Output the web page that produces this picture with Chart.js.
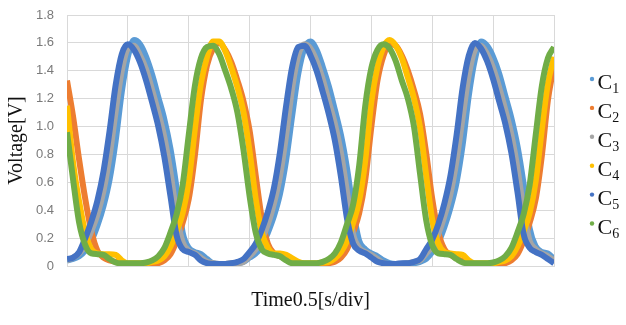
<!DOCTYPE html>
<html>
<head>
<meta charset="utf-8">
<script src="https://cdn.jsdelivr.net/npm/chart.js@4"></script>
<style>
  html, body { margin: 0; padding: 0; background: #fff; }
  #wrap { width: 626px; height: 325px; }
</style>
</head>
<body>
<div id="wrap"><canvas id="voltChart" width="626" height="325"></canvas></div>
<script>
/* =========================
   DATA
=========================*/
const time = [
  0, 0.1, 0.2, 0.3, 0.4, 0.5, 0.6, 0.7, 0.8, 0.9,
  1, 1.1, 1.2, 1.3, 1.4, 1.5, 1.6, 1.7, 1.8, 1.9,
  2, 2.1, 2.2, 2.3, 2.4, 2.5, 2.6, 2.7, 2.8, 2.9,
  3, 3.1, 3.2, 3.3, 3.4, 3.5, 3.6, 3.7, 3.8, 3.9,
  4, 4.1, 4.2, 4.3, 4.4, 4.5, 4.6, 4.7, 4.8, 4.9,
  5, 5.1, 5.2, 5.3, 5.4, 5.5, 5.6, 5.7, 5.8, 5.9,
  6, 6.1, 6.2, 6.3, 6.4, 6.5, 6.6, 6.7, 6.8, 6.9,
  7, 7.1, 7.2, 7.3, 7.4, 7.5, 7.6, 7.7, 7.8, 7.9,
  8
];

const c1 = [
  0.04, 0.05, 0.07, 0.11, 0.18, 0.29, 0.43, 0.62, 0.90, 1.25,
  1.50, 1.62, 1.59, 1.50, 1.37, 1.21, 1.05, 0.84, 0.56, 0.24,
  0.13, 0.10, 0.085, 0.05, 0.02, 0.015, 0.015, 0.015, 0.02, 0.03,
  0.06, 0.09, 0.14, 0.24, 0.36, 0.52, 0.76, 1.08, 1.38, 1.56,
  1.61, 1.55, 1.43, 1.29, 1.12, 0.94, 0.70, 0.40, 0.18, 0.12,
  0.09, 0.07, 0.04, 0.02, 0.015, 0.015, 0.02, 0.02, 0.03, 0.05,
  0.10, 0.17, 0.28, 0.42, 0.60, 0.87, 1.22, 1.48, 1.61, 1.58,
  1.50, 1.38, 1.22, 1.06, 0.86, 0.59, 0.27, 0.14, 0.10, 0.09,
  0.05
];

const c2 = [
  1.33, 1.07, 0.76, 0.48, 0.25, 0.11, 0.06, 0.04, 0.03, 0.02,
  0.015, 0.015, 0.015, 0.015, 0.015, 0.02, 0.04, 0.085, 0.18, 0.31,
  0.48, 0.79, 1.19, 1.44, 1.56, 1.60, 1.55, 1.46, 1.33, 1.18,
  0.97, 0.65, 0.34, 0.16, 0.09, 0.07, 0.05, 0.03, 0.02, 0.015,
  0.015, 0.015, 0.015, 0.02, 0.03, 0.06, 0.12, 0.24, 0.38, 0.62,
  1.00, 1.33, 1.51, 1.59, 1.58, 1.51, 1.40, 1.26, 1.09, 0.81,
  0.48, 0.24, 0.12, 0.08, 0.055, 0.035, 0.02, 0.015, 0.015, 0.015,
  0.015, 0.015, 0.02, 0.04, 0.085, 0.18, 0.31, 0.48, 0.79, 1.19,
  1.44
];

const c3 = [
  0.04, 0.06, 0.09, 0.15, 0.25, 0.37, 0.54, 0.79, 1.11, 1.40,
  1.56, 1.58, 1.51, 1.41, 1.26, 1.10, 0.92, 0.67, 0.37, 0.17,
  0.11, 0.09, 0.06, 0.03, 0.02, 0.015, 0.015, 0.02, 0.02, 0.03,
  0.07, 0.12, 0.19, 0.30, 0.45, 0.65, 0.94, 1.28, 1.51, 1.59,
  1.56, 1.47, 1.34, 1.18, 1.02, 0.81, 0.53, 0.23, 0.13, 0.10,
  0.08, 0.05, 0.02, 0.015, 0.015, 0.015, 0.02, 0.03, 0.04, 0.09,
  0.14, 0.23, 0.36, 0.52, 0.76, 1.07, 1.37, 1.55, 1.58, 1.52,
  1.42, 1.28, 1.12, 0.94, 0.70, 0.40, 0.18, 0.12, 0.09, 0.07,
  0.04
];

const c4 = [
  1.15, 0.74, 0.46, 0.24, 0.12, 0.09, 0.085, 0.085, 0.08, 0.04,
  0.02, 0.02, 0.02, 0.02, 0.03, 0.04, 0.07, 0.14, 0.25, 0.38,
  0.61, 0.98, 1.31, 1.50, 1.61, 1.61, 1.54, 1.42, 1.28, 1.10,
  0.82, 0.48, 0.24, 0.13, 0.09, 0.09, 0.08, 0.055, 0.03, 0.02,
  0.02, 0.02, 0.025, 0.03, 0.055, 0.10, 0.18, 0.31, 0.47, 0.76,
  1.18, 1.43, 1.57, 1.62, 1.58, 1.49, 1.35, 1.20, 0.99, 0.65,
  0.33, 0.16, 0.10, 0.09, 0.085, 0.08, 0.04, 0.02, 0.02, 0.02,
  0.02, 0.03, 0.04, 0.07, 0.14, 0.25, 0.38, 0.61, 0.98, 1.31,
  1.50
];

const c5 = [
  0.05, 0.06, 0.10, 0.20, 0.32, 0.47, 0.68, 0.97, 1.30, 1.52,
  1.59, 1.55, 1.46, 1.33, 1.17, 1.00, 0.78, 0.50, 0.22, 0.12,
  0.10, 0.08, 0.04, 0.02, 0.015, 0.015, 0.015, 0.02, 0.03, 0.05,
  0.10, 0.16, 0.26, 0.39, 0.56, 0.82, 1.15, 1.43, 1.57, 1.58,
  1.51, 1.40, 1.25, 1.09, 0.90, 0.64, 0.34, 0.16, 0.11, 0.09,
  0.06, 0.03, 0.02, 0.015, 0.015, 0.02, 0.02, 0.03, 0.05, 0.12,
  0.19, 0.30, 0.45, 0.65, 0.94, 1.28, 1.51, 1.60, 1.56, 1.47,
  1.34, 1.18, 1.02, 0.81, 0.53, 0.23, 0.13, 0.10, 0.08, 0.05,
  0.02
];

const c6 = [
  0.96, 0.62, 0.31, 0.15, 0.09, 0.085, 0.08, 0.05, 0.025, 0.02,
  0.02, 0.02, 0.02, 0.025, 0.04, 0.07, 0.13, 0.24, 0.37, 0.58,
  0.94, 1.29, 1.49, 1.57, 1.58, 1.52, 1.40, 1.27, 1.10, 0.83,
  0.50, 0.24, 0.12, 0.09, 0.08, 0.07, 0.04, 0.02, 0.02, 0.02,
  0.02, 0.02, 0.03, 0.05, 0.09, 0.17, 0.30, 0.44, 0.72, 1.15,
  1.42, 1.55, 1.59, 1.56, 1.47, 1.33, 1.20, 1.00, 0.66, 0.33,
  0.15, 0.09, 0.085, 0.08, 0.05, 0.025, 0.02, 0.02, 0.02, 0.02,
  0.025, 0.04, 0.07, 0.13, 0.24, 0.37, 0.58, 0.94, 1.29, 1.49,
  1.57
];

const seriesNames = ["C1", "C2", "C3", "C4", "C5", "C6"];
const seriesData = [c1, c2, c3, c4, c5, c6];
const seriesColors = ["#5B9BD5", "#ED7D31", "#A5A5A5", "#FFC000", "#4472C4", "#70AD47"];

const yTicks = { min: 0, max: 1.8, step: 0.2 };
const xTicks = { min: 0, max: 8, step: 1 };


/* =========================
   LEGEND (C with subscript)
=========================*/
const subLegend = {
  id: "subLegend",
  afterDraw(chart){
    const ctx = chart.ctx;
    ctx.save();
    chart.data.datasets.forEach((ds, i) => {
      const y = 79 + i * 28.9;
      ctx.fillStyle = ds.borderColor;
      ctx.beginPath();
      ctx.arc(592, y, 2.2, 0, Math.PI * 2);
      ctx.fill();

      ctx.fillStyle = "#111";
      ctx.textBaseline = "alphabetic";
      ctx.font = '22px "Liberation Serif"';
      ctx.fillText(seriesNames[i][0], 597.5, y + 10);
      const w = ctx.measureText(seriesNames[i][0]).width;
      ctx.font = '14px "Liberation Serif"';
      ctx.fillText(seriesNames[i].slice(1), 597.5 + w, y + 14);
    });
    ctx.restore();
  }
};


/* =========================
   CHART
=========================*/
const gridColor = "#d9d9d9";

new Chart(document.getElementById("voltChart"), {
  type: "line",
  data: {
    labels: time,
    datasets: seriesData.map((d, i) => ({
      label: seriesNames[i],
      data: d,
      borderColor: seriesColors[i],
      backgroundColor: seriesColors[i],
      borderWidth: 6,
      pointRadius: 0,
      cubicInterpolationMode: "monotone",
      order: seriesData.length - i
    }))
  },
  options: {
    responsive: false,
    animation: false,
    layout: { padding: { left: 0, right: 72, top: 15, bottom: 0 } },
    plugins: {
      legend: { display: false },
      tooltip: { enabled: false }
    },
    scales: {
      x: {
        type: "linear",
        min: xTicks.min,
        max: xTicks.max,
        ticks: { display: false, stepSize: xTicks.step },
        grid: { color: gridColor, drawTicks: false },
        border: { color: gridColor },
        title: {
          display: true,
          text: "Time0.5[s/div]",
          color: "#111",
          font: { family: "Liberation Serif", size: 20 },
          padding: { top: 0, bottom: 12 }
        },
        afterFit(scale){ scale.height = 59; }
      },
      y: {
        min: yTicks.min,
        max: yTicks.max,
        ticks: {
          stepSize: yTicks.step,
          color: "#7a7a7a",
          padding: 3,
          font: { family: "Liberation Sans", size: 13 }
        },
        grid: { color: gridColor, drawTicks: true, tickLength: 10, tickColor: "rgba(0,0,0,0)" },
        border: { color: gridColor },
        title: {
          display: true,
          text: "Voltage[V]",
          color: "#111",
          font: { family: "Liberation Serif", size: 20 },
          padding: { top: 5, bottom: 0 }
        },
        afterFit(scale){ scale.width = 67; }
      }
    }
  },
  plugins: [subLegend]
});
</script>
</body>
</html>
